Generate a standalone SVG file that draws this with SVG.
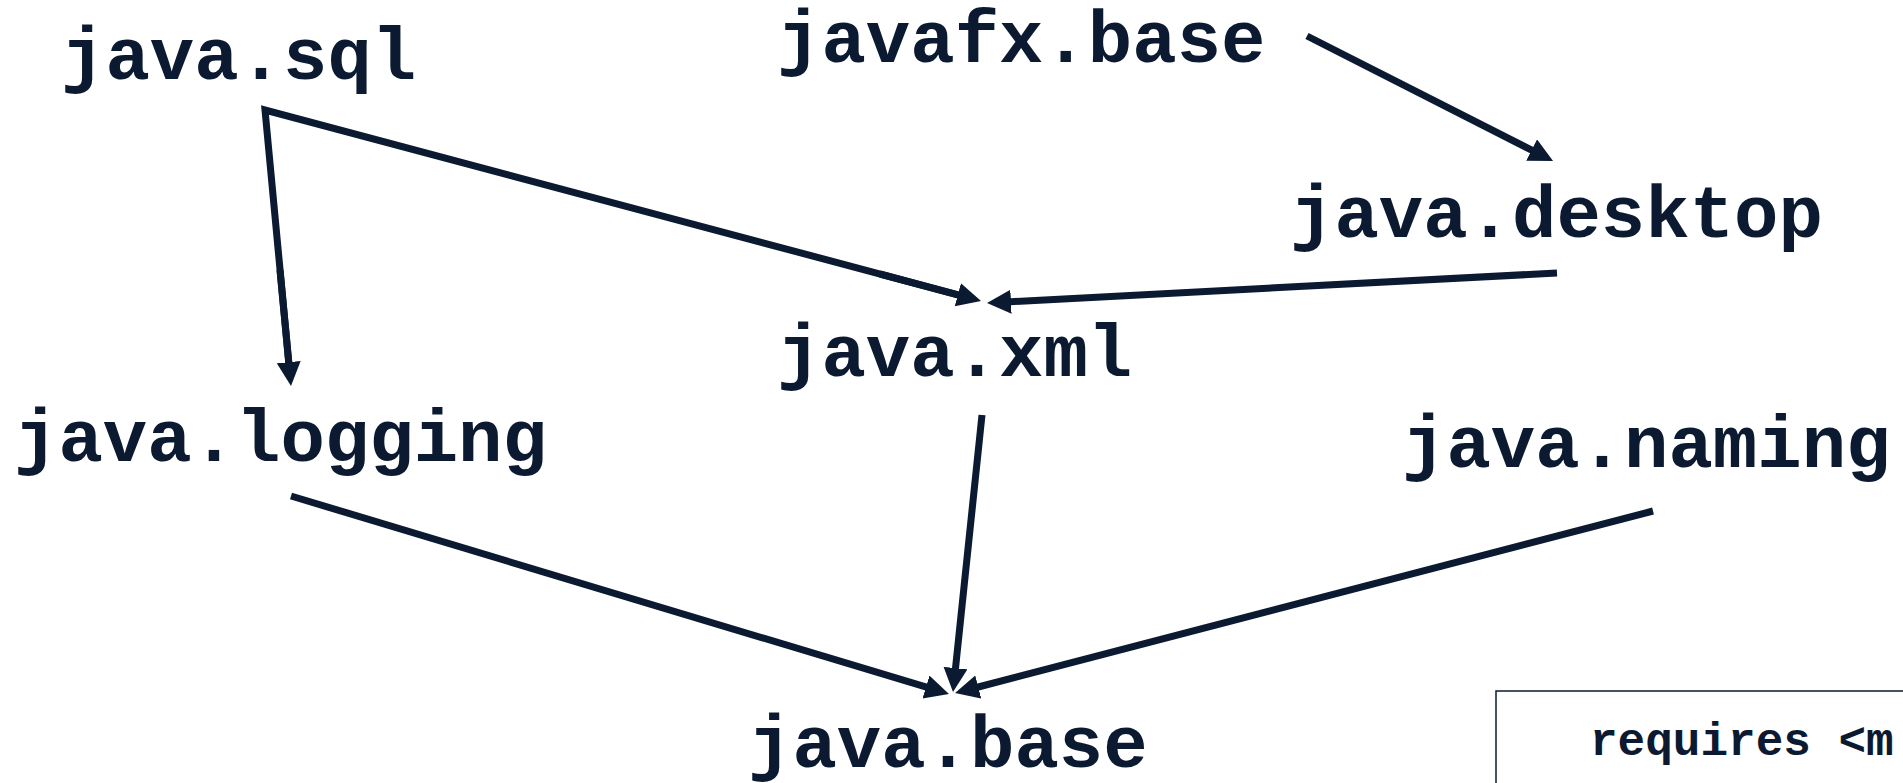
<svg xmlns="http://www.w3.org/2000/svg" width="1903" height="783" viewBox="0 0 1903 783">
<defs>
<style>
.lbl{font-family:"Liberation Mono","Courier New",monospace;font-weight:bold;font-size:74px;fill:#0b1a31}
.code{font-family:"Liberation Mono","Courier New",monospace;font-weight:bold;font-size:46px;fill:#0b1a31}
.edge{stroke:#0b1a31;stroke-width:7;fill:none;marker-end:url(#arr)}
</style>
<marker id="arr" markerUnits="userSpaceOnUse" markerWidth="26" markerHeight="26" refX="4" refY="12" orient="auto">
<path d="M0,0 L24,12 L0,24 Z" fill="#0b1a31"/>
</marker>
</defs>
<rect width="1903" height="783" fill="#ffffff"/>
<g id="connectors">
<path d="M289.1,366.1 L265,110 L961.7,295.8" stroke="#0b1a31" stroke-width="7" fill="none" stroke-linejoin="miter"/>
<line class="edge" x1="280" y1="270" x2="289.1" y2="366.1"/>
<line class="edge" x1="880" y1="274" x2="961.7" y2="295.8"/>
<line class="edge" x1="1307" y1="36" x2="1535.2" y2="151.9"/>
<line class="edge" x1="1557" y1="273" x2="1007" y2="301.9"/>
<line class="edge" x1="982" y1="415" x2="955.1" y2="672.1"/>
<line class="edge" x1="291" y1="496" x2="929.8" y2="688.2"/>
<line class="edge" x1="1653" y1="511" x2="974.4" y2="688"/>
</g>
<g id="java-sql"><text class="lbl" x="61" y="79">java.sql</text></g>
<g id="javafx-base"><text class="lbl" x="777" y="62">javafx.base</text></g>
<g id="java-desktop"><text class="lbl" x="1290" y="237">java.desktop</text></g>
<g id="java-xml"><text class="lbl" x="777" y="376">java.xml</text></g>
<g id="java-logging"><text class="lbl" x="14" y="461">java.logging</text></g>
<g id="java-naming"><text class="lbl" x="1402" y="467">java.naming</text></g>
<g id="java-base"><text class="lbl" x="748" y="767">java.base</text></g>
<g id="legend">
<rect x="1496" y="691" width="420" height="120" fill="#ffffff" stroke="#0b1a31" stroke-width="1.5"/>
<text class="code" x="1590" y="755">requires &lt;m</text>
</g>
</svg>
